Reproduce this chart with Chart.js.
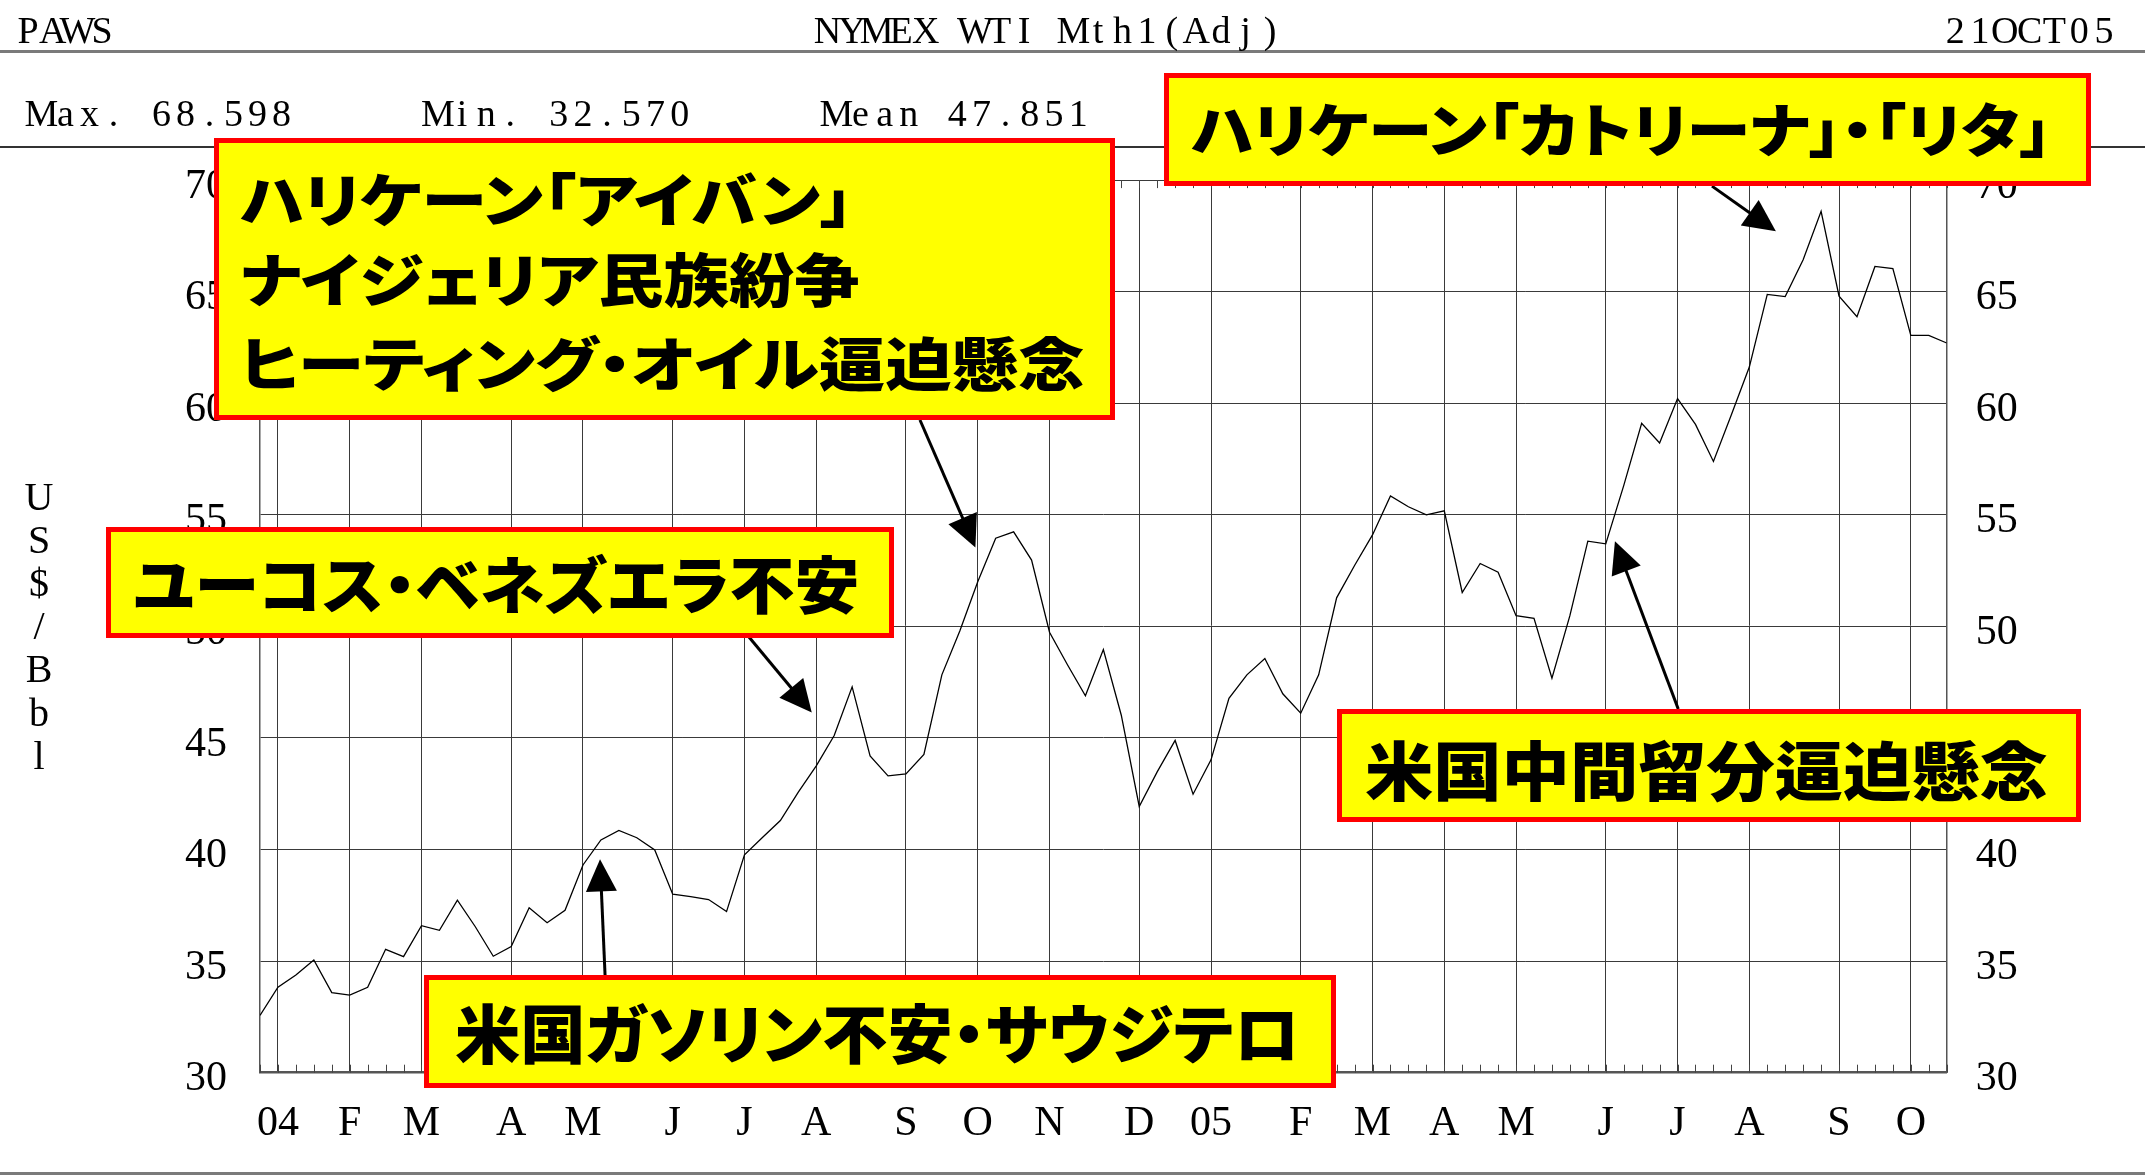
<!DOCTYPE html>
<html>
<head>
<meta charset="utf-8">
<script src="https://cdn.jsdelivr.net/npm/chart.js@4.4.0/dist/chart.umd.min.js"></script>
<style>
html,body{margin:0;padding:0;background:#fff;}
#wrap{position:relative;width:2145px;height:1176px;overflow:hidden;background:#fff;}
#c{position:absolute;left:0;top:0;}
.rule{position:absolute;left:0;width:2145px;}
.pitch{position:absolute;white-space:nowrap;font-family:'Liberation Serif','Times New Roman',serif;color:#000;}
.pitch span{display:inline-flex;justify-content:center;}
.ych{position:absolute;font-family:'Liberation Serif','Times New Roman',serif;color:#000;transform:translateX(-50%);}
.box{position:absolute;box-sizing:border-box;background:#ffff00;border:5px solid #ff0000;}
.bt{position:absolute;white-space:nowrap;font-family:'Noto Sans CJK JP','Noto Sans CJK SC',sans-serif;font-weight:900;color:#000;font-feature-settings:"palt";transform-origin:0 0;}
</style>
</head>
<body>
<div id="wrap">
  <canvas id="c" width="2145" height="1176"></canvas>
</div>
<script>
// ---------------- data ----------------
const prices = [
  32.57, 33.83, 34.38, 35.05, 33.59, 33.48, 33.83, 35.53, 35.20, 36.59,
  36.38, 37.73, 36.54, 35.22, 35.65, 37.39, 36.72, 37.28, 39.31, 40.43,
  40.86, 40.53, 39.98, 38.00, 37.89, 37.76, 37.22, 39.76, 40.54, 41.30,
  42.57, 43.75, 45.11, 47.29, 44.20, 43.30, 43.39, 44.26, 47.83, 49.79,
  52.00, 53.95, 54.24, 52.97, 49.74, 48.28, 46.89, 48.96, 46.02, 41.93,
  43.48, 44.89, 42.48, 44.02, 46.78, 47.83, 48.56, 46.98, 46.11, 47.83,
  51.28, 52.73, 54.10, 55.85, 55.36, 55.00, 55.18, 51.52, 52.82, 52.43,
  50.48, 50.36, 47.68, 50.48, 53.82, 53.70, 56.31, 59.10, 58.22, 60.21,
  59.05, 57.39, 59.48, 61.62, 64.88, 64.78, 66.43, 68.60, 64.80, 63.88,
  66.13, 66.03, 63.04, 63.04, 62.70
];
// week index at which each month gridline sits
const monthIdx = [1, 5, 9, 14, 18, 23, 27, 31, 36, 40, 44, 49, 53, 58, 62, 66, 70, 75, 79, 83, 88, 92];
const monthLabels = ['04','F','M','A','M','J','J','A','S','O','N','D','05','F','M','A','M','J','J','A','S','O'];
const yTicks = [30, 35, 40, 45, 50, 55, 60, 65, 70];
const statMax = '68.598';
const statMin = '32.570';
const statMean = '47.851';
const titleText = 'NYMEX WTI Mth1(Adj)';
const dateText = '21OCT05';
const sourceText = 'PAWS';
const yTitle = 'US$/Bbl';
const notes = [
  ['ハリケーン「アイバン」', 'ナイジェリア民族紛争', 'ヒーティング・オイル逼迫懸念'],
  ['ハリケーン「カトリーナ」・「リタ」'],
  ['ユーコス・ベネズエラ不安'],
  ['米国中間留分逼迫懸念'],
  ['米国ガソリン不安・サウジテロ']
];
// arrows: [fromWeek, fromPrice, toWeek, toPrice]
const arrowAnchors = [
  [36.78, 59.25, 39.87, 53.54],
  [27.03, 49.74, 30.75, 46.14],
  [19.23, 34.38, 18.95, 39.56],
  [79.04, 46.30, 75.51, 53.82],
  [80.92, 69.73, 84.48, 67.71]
];

// ---------------- layout ----------------
const W = 2145, H = 1176;
const PLOT = {left: 260, right: 1946.7, top: 180.1, bottom: 1072.7};
const serif = "'Liberation Serif','Times New Roman',serif";
const wrap = document.getElementById('wrap');

function rule(y, h, color) {
  const d = document.createElement('div');
  d.className = 'rule';
  d.style.top = y + 'px'; d.style.height = h + 'px'; d.style.background = color;
  wrap.appendChild(d);
}
rule(50, 2.5, '#7a7a7a');
rule(146, 1.5, '#333');
rule(1172, 3, '#7a7a7a');

function pitched(text, cx, base, pitch, fs) {
  const d = document.createElement('div');
  d.className = 'pitch';
  d.style.fontSize = fs + 'px';
  d.style.lineHeight = fs + 'px';
  d.style.left = (cx - pitch / 2) + 'px';
  d.style.top = (base - 0.8375 * fs) + 'px';
  for (const ch of text) {
    const s = document.createElement('span');
    s.style.width = pitch + 'px';
    s.textContent = ch === ' ' ? '\u00a0' : ch;
    d.appendChild(s);
  }
  wrap.appendChild(d);
}
pitched(sourceText, 28, 43, 24.7, 38);
pitched(titleText, 827.4, 43, 24.6, 38);
pitched(dateText, 1955.2, 43, 24.8, 38);
pitched('Max. ' + statMax, 41.5, 126, 24.0, 38);
pitched('Min. ' + statMin, 437.8, 126, 24.2, 38);
pitched('Mean ' + statMean, 836.3, 126, 24.2, 38);

// vertical axis title
[...yTitle].forEach((ch, k) => {
  const s = document.createElement('div');
  s.className = 'ych';
  const fs = 40;
  s.style.fontSize = fs + 'px';
  s.style.lineHeight = fs + 'px';
  s.style.left = '39px';
  s.style.top = (510 + k * 43.2 - 0.8375 * fs) + 'px';
  s.textContent = ch;
  wrap.appendChild(s);
});

// annotation boxes
const boxes = [
  {x: 214, y: 138, w: 901, h: 282, fs: 58, lines: [
    {left: 240, cy: 200, width: 613}, {left: 240, cy: 280, width: 620}, {left: 240, cy: 364, width: 845}]},
  {x: 1164, y: 73, w: 927, h: 113, fs: 58, lines: [{left: 1191, cy: 130, width: 861}]},
  {x: 106, y: 527, w: 788, h: 111, fs: 62, lines: [{left: 133, cy: 585, width: 726}]},
  {x: 1337, y: 709, w: 744, h: 113, fs: 64, lines: [{left: 1365, cy: 771, width: 683}]},
  {x: 424, y: 975, w: 912, h: 113, fs: 64, lines: [{left: 455, cy: 1034, width: 845}]}
];
const fitList = [];
boxes.forEach((b, bi) => {
  const d = document.createElement('div');
  d.className = 'box';
  d.style.left = b.x + 'px'; d.style.top = b.y + 'px';
  d.style.width = b.w + 'px'; d.style.height = b.h + 'px';
  wrap.appendChild(d);
  b.lines.forEach((ln, li) => {
    const t = document.createElement('div');
    t.className = 'bt';
    t.style.fontSize = b.fs + 'px';
    t.style.lineHeight = b.fs + 'px';
    t.style.left = ln.left + 'px';
    t.style.top = (ln.cy - 0.556 * b.fs) + 'px';
    t.textContent = notes[bi][li];
    wrap.appendChild(t);
    fitList.push([t, ln.width]);
  });
});
function fitTexts() {
  fitList.forEach(([t, w]) => {
    const nw = t.offsetWidth;
    if (nw > 0) t.style.transform = 'scaleX(' + (w / nw) + ')';
  });
}
fitTexts();
if (document.fonts && document.fonts.ready) document.fonts.ready.then(fitTexts);

// ---------------- chart ----------------
const minorTicks = {
  id: 'minorTicks',
  afterDatasetsDraw(chart) {
    const ctx = chart.ctx, xs = chart.scales.x, a = chart.chartArea;
    ctx.save();
    ctx.strokeStyle = '#444';
    ctx.lineWidth = 1;
    for (let i = 0; i < prices.length; i++) {
      const px = Math.round(xs.getPixelForValue(i)) + 0.5;
      ctx.beginPath();
      ctx.moveTo(px, a.bottom); ctx.lineTo(px, a.bottom - 8);
      ctx.moveTo(px, a.top); ctx.lineTo(px, a.top + 8);
      ctx.stroke();
    }
    ctx.restore();
  }
};
const arrows = {
  id: 'arrows',
  afterDraw(chart) {
    const ctx = chart.ctx, xs = chart.scales.x, ys = chart.scales.y;
    ctx.save();
    ctx.strokeStyle = '#000'; ctx.fillStyle = '#000'; ctx.lineWidth = 3;
    arrowAnchors.forEach(([fx, fy, tx, ty]) => {
      const x0 = xs.getPixelForValue(fx), y0 = ys.getPixelForValue(fy);
      const x1 = xs.getPixelForValue(tx), y1 = ys.getPixelForValue(ty);
      const dx = x1 - x0, dy = y1 - y0, L = Math.hypot(dx, dy);
      const ux = dx / L, uy = dy / L, hl = 32, hw = 15.5;
      const bx = x1 - ux * hl, by = y1 - uy * hl;
      ctx.beginPath(); ctx.moveTo(x0, y0); ctx.lineTo(bx + ux * 2, by + uy * 2); ctx.stroke();
      ctx.beginPath();
      ctx.moveTo(x1, y1);
      ctx.lineTo(bx - uy * hw, by + ux * hw);
      ctx.lineTo(bx + uy * hw, by - ux * hw);
      ctx.closePath(); ctx.fill();
    });
    ctx.restore();
  }
};

new Chart(document.getElementById('c'), {
  type: 'line',
  data: {
    datasets: [{
      data: prices.map((v, i) => ({x: i, y: v})),
      borderColor: '#000', borderWidth: 1.3, pointRadius: 0, tension: 0, fill: false
    }]
  },
  options: {
    responsive: false, animation: false, devicePixelRatio: 1,
    layout: {padding: {top: PLOT.top, left: 0, right: 0, bottom: 0}},
    plugins: {legend: {display: false}, tooltip: {enabled: false}, title: {display: false}},
    scales: {
      x: {
        type: 'linear', min: 0, max: prices.length - 1,
        afterBuildTicks: s => { s.ticks = monthIdx.map(v => ({value: v})); },
        afterFit: s => { s.height = H - PLOT.bottom; },
        ticks: {
          autoSkip: false, maxRotation: 0, minRotation: 0, padding: 26,
          color: '#000', font: {family: serif, size: 42},
          callback: (v, i) => monthLabels[i]
        },
        grid: {color: '#3a3a3a', lineWidth: 1, drawTicks: false},
        border: {display: true, color: '#555', width: 2.5}
      },
      y: {
        type: 'linear', position: 'left', min: 30, max: 70,
        afterBuildTicks: s => { s.ticks = yTicks.map(v => ({value: v})); },
        afterFit: s => { s.width = PLOT.left; },
        ticks: {padding: 33, labelOffset: 6.5, color: '#000', font: {family: serif, size: 42}},
        grid: {color: '#3a3a3a', lineWidth: 1, drawTicks: false},
        border: {display: true, color: '#555', width: 1.5}
      },
      y2: {
        type: 'linear', position: 'right', min: 30, max: 70,
        afterBuildTicks: s => { s.ticks = yTicks.map(v => ({value: v})); },
        afterFit: s => { s.width = W - PLOT.right; },
        ticks: {padding: 29, labelOffset: 6.5, color: '#000', font: {family: serif, size: 42}},
        grid: {display: false, drawTicks: false},
        border: {display: true, color: '#555', width: 1.5}
      }
    }
  },
  plugins: [minorTicks, arrows]
});
</script>
</body>
</html>
